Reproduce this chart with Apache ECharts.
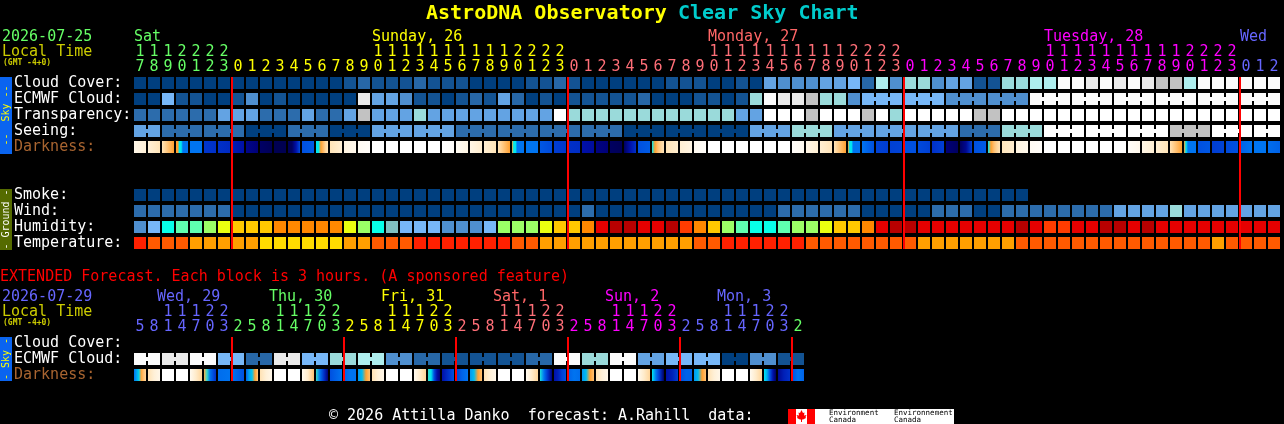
<!DOCTYPE html>
<html>
<head>
<meta charset="utf-8">
<style>html,body{margin:0;padding:0;background:#000;overflow:hidden}#c{width:1284px;height:424px}</style>
<script src="https://cdn.jsdelivr.net/npm/echarts@6/dist/echarts.min.js"></script>
</head>
<body>
<div id="c"></div>
<script>
// ---------- hours and days ----------
const mainHours = [17,18,19,20,21,22,23,
  0,1,2,3,4,5,6,7,8,9,10,11,12,13,14,15,16,17,18,19,20,21,22,23,
  0,1,2,3,4,5,6,7,8,9,10,11,12,13,14,15,16,17,18,19,20,21,22,23,
  0,1,2,3,4,5,6,7,8,9,10,11,12,13,14,15,16,17,18,19,20,21,22,23,
  0,1,2];
const extHours = [5,8,11,14,17,20,23,
  2,5,8,11,14,17,20,23, 2,5,8,11,14,17,20,23, 2,5,8,11,14,17,20,23,
  2,5,8,11,14,17,20,23, 2,5,8,11,14,17,20,23, 2];
const mainDays = [[0,'Sat','#66ff66'],[17,'Sunday, 26','#ffff00'],[41,'Monday, 27','#ff6666'],[65,'Tuesday, 28','#ff00ff'],[79,'Wed','#6666ff']];
const extDays  = [[2,'Wed, 29','#6666ff'],[10,'Thu, 30','#66ff66'],[18,'Fri, 31','#ffff00'],[26,'Sat, 1','#ff6666'],[34,'Sun, 2','#ff00ff'],[42,'Mon, 3','#6666ff']];
const mainHourColorStarts = [[0,'#66ff66'],[7,'#ffff00'],[31,'#ff6f78'],[55,'#ff00ff'],[79,'#6666ff']];
const extHourColorStarts  = [[0,'#6666ff'],[7,'#66ff66'],[15,'#ffff00'],[23,'#ff6f78'],[31,'#ff00ff'],[39,'#6666ff'],[47,'#66ff66']];
const mainRows = ['Cloud Cover:','ECMWF Cloud:','Transparency:','Seeing:','Darkness:','','','Smoke:','Wind:','Humidity:','Temperature:'];
const extRows  = ['Cloud Cover:','ECMWF Cloud:','Darkness:'];
const mainMidnights = [7,31,55,79];
const extMidnights  = [7,15,23,31,39,47];

// ---------- colours ----------
const cloudColors = ['#003F7F','#135393','#2767A7','#3B7BBB','#4F8FCF','#63A3E3','#77B7F7','#9ADADA','#AEEEEE','#C2C2C2','#EAEAEA','#FBFBFB'];
const qualityColors = ['#003F7F','#2C6CAC','#63A3E3','#9ADADA','#FFFFFF','#C2C2C2'];
const humidityColors = ['#4F8FCF','#77B7F7','#08FFE8','#5FFFB0','#9BFF66','#EAFF10','#FFC800','#FF8800','#FF3C00','#E60000','#B80000','#80C0C0'];
const temperatureColors = ['#FF2000','#FF5A00','#FF9F00','#FFDC00'];
const darknessStops = [[0,'#ffffff'],[1,'#fff4e0'],[2,'#ffe2b4'],[3,'#ffa030'],[4,'#00e8f0'],[5,'#0074f0'],[6,'#0050e0'],[7,'#0030c8'],[8,'#0010a8'],[9,'#000078'],[10,'#000048']];

// ---------- main forecast rows ----------
const cloudCover = [0,0,0,0,0,0,0, 0,0,0,0,0,0,0,0,1,2,1,1,1,2, 1,1,1,0,0,0,0,1,1,2, 1,0,0,0,0,0,0,1,1,1,0,0,1,0,5,4,4,4,5,5,6,
  2,8,4, 7,7,4,5,5,1,1,7,7,8,8,11,11,10,11,10,11,10,9,9,8,11,11,11,11,11,11];
const ecmwfCloud = [0,0,6,1,1,0,0, 1,4,0,1,0,0,0,0,0,10,5,5,4,1, 1,0,1,2,1,5,2,0,1,0, 1,1,1,1,1,2,0,0,0,1,1,0,1,7,11,10,10,9,7,7,4,
  6,6,6, 6,6,6, 4,4,4, 4,4,4, 11,11,11, 11,11,11, 11,11,11, 11,11,11, 11,11,11, 11,11,11];
const transparency = [1,1,1,1,1,1,2, 2,2,1,1,1,2,1,1,2,5,2,2,2,3, 2,2,2,2,2,2,2,2,2,4,
  3,3,3,3,3,3,3,3,3,3,3,3,2,2,4,4,4,5,4,4,4,
  5,4,3, 4,4,4,4,4,5,5,4,4,4,4,4,4,4,4,4,4,4,4,4,4,4,4,4,4,4,4];
const seeing = [2,2, 1,1,1, 1,1,1, 0,0,0, 1,1,1, 0,0,0, 2,2,2, 2,2,2, 1,1,1, 1,1,1, 1,1,1, 1,1,1,
  0,0,0, 0,0,0, 0,0,0, 2,2,2, 3,3,3, 2,2,2, 2,2,2, 2,2,2, 1,1,1, 3,3,3, 4,4,4, 4,4,4, 4,4,4, 5,5,5, 4,4,4, 4,4];
const darkness = [[.7,1.2],[1.2,1.9],[1.9,3],[3,3,4,4,5,5,5,5],[5,5],[6.8,7],[7,7.2],[7.6,8],[8.6,9],[9.4,9.7],[9.8,9.8],[9.7,9.5,8,6.2],[6,5.7],[4,4,3,2.6,2.2,1.9],[1.9,1.3],[1,.6],[.4,.2],
  [0,0],[0,0],[0,0],[0,0],[0,0],[0,.2],[.4,.9],[.8,1.4],[1.3,1.9],[1.9,3],[3,4,4,5,5,5,5,5],[5,5],[5.8,6.2],[6.6,6.8],[7,7.1],[8,8.2],[8.8,9],[9.5,9.7],[9.5,8,7],[6,5.7],[4,3,2.5,2.2,1.9],[1.9,1.4],[1.3,.9],[.5,.2],
  [0,0],[0,0],[0,0],[0,0],[0,0],[0,0],[.2,.5],[.8,1.3],[1.3,1.9],[1.9,3],[3,4,4,5,5,5,5,5],[5,6],[6.4,6.6],[6.5,6.4],[6,6],[6.2,6.5],[7,6.5],[9,9.5],[9.5,8.5,6.5],[6,5.7],[4,3,2.5,2.2,1.9],[1.8,1.4],[1,.6],[.4,.2],
  [0,0],[0,0],[0,0],[0,0],[0,0],[0,0],[.2,.6],[.8,1.3],[1.3,1.9],[2,3],[3,4,5,5,5,5,5],[6,5.8],[6.6,6.4],[6.2,6],[5.5,5],[5,5],[5.2,5.5]];
const smoke = [0,0,0,0,0,0,0,0,0,0,0,0,0,0,0,0,0,0,0,0,0,0,0,0,0,0,0,0,0,0,0,0,0,0,0,0,0,0,0,0,0,0,0,0,0,0,0,0,0,0,0,0,0,0,0,0,0,0,0,0,0,0,0,0];
const wind = [1,1,1,1,1,1,1, 0,0,0,0,0,0,0,0,0,0,0,0,0,0, 0,0,0,0,0,0,0,0,0,0, 0,1,0,0,0,0,0,0,0,0,0,0,0,0,0,1,1,1,1,1,1,
  0,0,0,0,0,1,1,1,0,0,1,1,1,1,1,1,1,1,2,2,2,2,3,2,2,2,2,2,2,2];
const humidity = [0,1,2,3,3,4,5, 6,6,6,7,7,7,7,7,5,4,2,11,1,1, 1,0,0,0,1,4,4,4,5,6, 6,7,9,10,10,9,9,10,8,7,6,4,3,2,2,3,4,4,5,6,6,
  7,9,10,10,9,9,9,9,9,9,9,10,9,8,8,9,9,10,10,9,10,9,9,9,9,9,9,9,9,9];
const temperature = [0,1,1,1,2,2,2, 2,2,3,3,3,3,3,3,2,2,1,1,1,0, 0,0,0,0,0,0,1,1,2,2, 2,2,2,2,2,2,2,2,2,1,1,0,0,0,0,0,0,1,1,1,1,
  1,1,1,1,2,2,2,2,2,2,2,1,1,1,1,1,1,1,1,1,1,1,1,1,1,2,1,1,1,1];

// ---------- extended forecast rows ----------
const extEcmwf = [11,11,10,10,11,11,6,6,2,2,10,10,6,6,7,7,8,8,4,4,2,2,1,1,1,1,1,1,2,2,11,11,7,7,11,11,5,5,6,6,6,6,0,0,4,4,1,1];
const extDarkness = [[5,4.6,4.2,2.9,2.5,2.2],[2,1.2,.7],[0,0],[0,0],[.5,1.5,2.2],[2.8,3.8,5,6,7],[5.2,5],[5,5.5,6],
  [5.5,4.6,4.3,3,2.4],[2,1.2,.7],[0,0],[0,0],[.5,1.5,2.5],[3.8,5,7,9],[6,5.5,5],[5.5,5,5],
  [4.7,4.4,3,2.5],[2,1.2,.7],[0,0],[0,0],[.5,1.5,2.2],[3.8,4,6,8,9],[8,7,6],[6.5,5.5,5],
  [4.7,4.4,3,2.5],[2,1.2,.7],[0,0],[0,0],[.5,1.5,2.2],[3.9,5,7,9],[8,7.5,6.5,6],[5.5,5,5.2],
  [4.7,4.4,3,2.5],[2,1.2,.7],[0,0],[0,0],[.5,1.5,2.2],[4,5,7,9.5],[8,7.5,6.5],[6,5.5,5.5],
  [4.7,4.4,3,2.5],[2,1.2,.7],[0,0],[0,0],[.5,1.5,2.2],[4,4.5,6,8,9.5],[8.5,7.5,7],[6,5,5.5]];

// ---------- drawing ----------
const MONO = '"DejaVu Sans Mono"';
const BLOCK = 12, BRIDGE_W = 2, BRIDGE_H = 4;

function hex(c){return [1,3,5].map(k=>parseInt(c.substr(k,2),16));}
function darkColor(d){
  for(let k=0;k<darknessStops.length-1;k++){
    const [a,ca]=darknessStops[k],[b,cb]=darknessStops[k+1];
    if(d<=b){const t=(d-a)/(b-a),x=hex(ca),y=hex(cb);
      return 'rgb('+x.map((v,n)=>Math.round(v+(y[n]-v)*t)).join(',')+')';}
  }
  return darknessStops[darknessStops.length-1][1];
}
function colorAt(starts,i){let c=starts[0][1];for(const s of starts){if(i>=s[0])c=s[1];}return c;}

function blocks(name,xi,yi,row,values,colors,join){
  return {type:'custom',name,xAxisIndex:xi,yAxisIndex:yi,silent:true,z:2,
    data:values.map((v,i)=>[i,row,v]),
    renderItem:(p,api)=>{
      const i=api.value(0),c=api.coord([i,api.value(1)]),fill=colors[api.value(2)];
      const kids=[{type:'rect',shape:{x:c[0]-BLOCK/2,y:c[1]-BLOCK/2,width:BLOCK,height:BLOCK},style:{fill}}];
      if(join&&join(i)&&i<values.length-1)kids.push({type:'rect',shape:{x:c[0]+BLOCK/2,y:c[1]-BRIDGE_H/2,width:BRIDGE_W,height:BRIDGE_H},style:{fill}});
      return {type:'group',children:kids};
    }};
}
function gradientBlocks(name,xi,yi,row,samples){
  return {type:'custom',name,xAxisIndex:xi,yAxisIndex:yi,silent:true,z:2,
    data:samples.map((s,i)=>[i,row]),
    renderItem:(p,api)=>{
      const i=api.value(0),c=api.coord([i,api.value(1)]),s=samples[i];
      const stops=s.map((d,k)=>({offset:k/(s.length-1),color:darkColor(d)}));
      return {type:'rect',shape:{x:c[0]-BLOCK/2,y:c[1]-BLOCK/2,width:BLOCK,height:BLOCK},
        style:{fill:new echarts.graphic.LinearGradient(0,0,1,0,stops)}};
    }};
}
function redLines(name,xi,yi,idx,lastRow){
  return {type:'custom',name,xAxisIndex:xi,yAxisIndex:yi,silent:true,z:5,
    data:idx.map(i=>[i,0]),
    renderItem:(p,api)=>{
      const a=api.coord([api.value(0),0]),b=api.coord([api.value(0),lastRow]),w=api.size([1,0])[0];
      return {type:'rect',shape:{x:a[0]-w/2,y:a[1]-BLOCK/2,width:2,height:b[1]-a[1]+BLOCK},style:{fill:'#ff0000'}};
    }};
}
function dayNames(name,xi,yi,list,y,dx){
  return {type:'custom',name,xAxisIndex:xi,yAxisIndex:yi,silent:true,z:3,
    data:list.map(d=>[d[0],0]),
    renderItem:(p,api)=>{
      const k=p.dataIndex,c=api.coord([list[k][0],0]);
      return {type:'text',x:c[0]+dx,y,style:{text:list[k][1],fill:list[k][2],font:'15px '+MONO,verticalAlign:'middle'}};
    }};
}
function hourAxis(grid,hours,starts,offset,tens){
  return {type:'category',gridIndex:grid,position:'top',offset,
    data:hours.map(h=>tens?(h>=10?String(Math.floor(h/10)):''):String(h%10)),
    axisLine:{show:false},axisTick:{show:false},splitLine:{show:false},
    axisLabel:{interval:0,margin:0,hideOverlap:false,fontFamily:MONO,fontSize:15,
      color:(v,i)=>colorAt(starts,i)}};
}
function rowAxis(grid,rows){
  return {type:'category',gridIndex:grid,inverse:true,data:rows,
    axisLine:{show:false},axisTick:{show:false},splitLine:{show:false},
    axisLabel:{interval:0,align:'left',margin:119,fontFamily:MONO,fontSize:15,padding:[0,0,2,0],
      color:(v,i)=>v==='Darkness:'?'#a86430':'#ffffff'}};
}
function txt(x,y,text,fill,font,extra){
  return Object.assign({type:'text',x,y,z:10,silent:true,style:{text,fill,font:font||('15px '+MONO),verticalAlign:'middle'}},extra||{});
}
function sideBar(y,h,fill,text,color){
  const cy=y+h/2;
  return [{type:'rect',z:9,silent:true,shape:{x:0,y,width:12,height:h},style:{fill}},
    {type:'text',x:6,y:cy,rotation:Math.PI/2,z:10,silent:true,style:{text,fill:color,font:'10px '+MONO,align:'center',verticalAlign:'middle'}}];
}

const join3 = (from,phase,size)=>i=>i>=from&&(((i-phase)%size+size)%size)!==size-1;

const graphics = [
  txt(426,14,'AstroDNA Observatory','#ffff00','bold 20px '+MONO),
  txt(678,14,'Clear Sky Chart','#00cccc','bold 20px '+MONO),
  txt(2,37,'2026-07-25','#66ff66'),
  txt(2,52,'Local Time','#cccc00'),
  txt(3,63,'(GMT -4+0)','#cccc00','bold 8px '+MONO),
  txt(0,277,'EXTENDED Forecast. Each block is 3 hours. (A sponsored feature)','#ff0000'),
  txt(2,297,'2026-07-29','#6666ff'),
  txt(2,312,'Local Time','#cccc00'),
  txt(3,323,'(GMT -4+0)','#cccc00','bold 8px '+MONO),
  txt(329,416,'\u00a9 2026 Attilla Danko  forecast: A.Rahill  data:','#ffffff'),
  ...sideBar(77,77,'#0a64f0','--  Sky --','#ffff00'),
  ...sideBar(189,61,'#556b00','- Ground -','#ffffff'),
  ...sideBar(337,44,'#0a64f0','- Sky -','#ffff00'),
  {type:'rect',z:9,silent:true,shape:{x:788,y:409,width:166,height:15},style:{fill:'#ffffff'}},
  {type:'rect',z:10,silent:true,shape:{x:788,y:409,width:8,height:15},style:{fill:'#ff0000'}},
  {type:'rect',z:10,silent:true,shape:{x:807,y:409,width:8,height:15},style:{fill:'#ff0000'}},
  {type:'polygon',z:10,silent:true,shape:{points:[[801.5,410],[803,413],[804.5,412.5],[804,415.5],[806.5,415],[805.5,417],[806,418],[803,419.5],[802,419.5],[802,422],[801,422],[801,419.5],[800,419.5],[797,418],[797.5,417],[796.5,415],[799,415.5],[798.5,412.5],[800,413]]},style:{fill:'#ff0000'}},
  txt(829,413,'Environment','#000000','7.5px '+MONO),
  txt(829,420.5,'Canada','#000000','7.5px '+MONO),
  txt(894,413,'Environnement','#000000','7.5px '+MONO),
  txt(894,420.5,'Canada','#000000','7.5px '+MONO)
];

const chart = echarts.init(document.getElementById('c'),null,{renderer:'canvas',width:1284,height:424});
chart.setOption({
  backgroundColor:'#000000',animation:false,
  grid:[
    {left:133,top:75,width:14*mainHours.length,height:16*mainRows.length},
    {left:133,top:335,width:14*extHours.length,height:16*extRows.length}
  ],
  xAxis:[
    hourAxis(0,mainHours,mainHourColorStarts,0,false),
    hourAxis(0,mainHours,mainHourColorStarts,15,true),
    hourAxis(1,extHours,extHourColorStarts,0,false),
    hourAxis(1,extHours,extHourColorStarts,15,true)
  ],
  yAxis:[rowAxis(0,mainRows),rowAxis(1,extRows)],
  graphic:graphics,
  series:[
    blocks('Cloud Cover',0,0,0,cloudCover,cloudColors),
    blocks('ECMWF Cloud',0,0,1,ecmwfCloud,cloudColors,join3(52,52,3)),
    blocks('Transparency',0,0,2,transparency,qualityColors),
    blocks('Seeing',0,0,3,seeing,qualityColors,join3(0,2,3)),
    gradientBlocks('Darkness',0,0,4,darkness),
    blocks('Smoke',0,0,7,smoke,cloudColors),
    blocks('Wind',0,0,8,wind,qualityColors),
    blocks('Humidity',0,0,9,humidity,humidityColors),
    blocks('Temperature',0,0,10,temperature,temperatureColors),
    redLines('Midnight',0,0,mainMidnights,10),
    dayNames('Days',0,0,mainDays,37,-6),
    blocks('Extended ECMWF',2,1,1,extEcmwf,cloudColors,join3(0,0,2)),
    gradientBlocks('Extended Darkness',2,1,2,extDarkness),
    redLines('Extended Midnight',2,1,extMidnights,2),
    dayNames('Extended Days',2,1,extDays,297,-11)
  ]
});
</script>
</body>
</html>
